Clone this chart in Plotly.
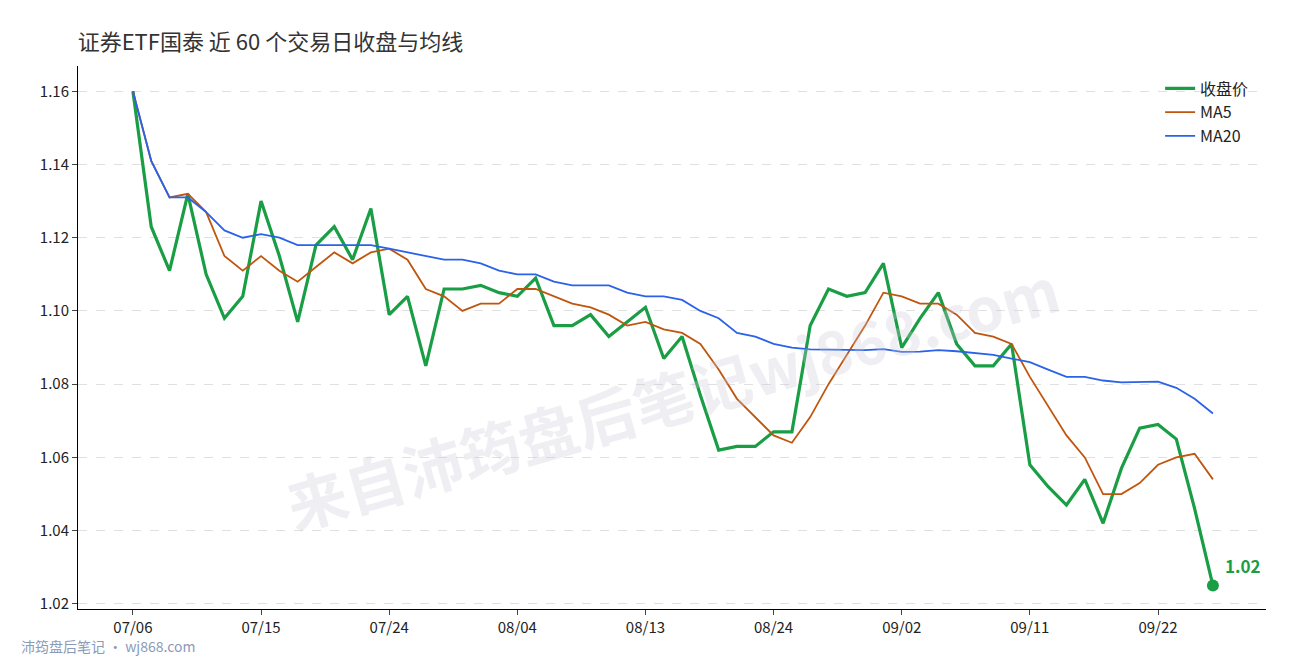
import plotly.graph_objects as go

dates = ["07/06","07/07","07/08","07/10","07/11","07/12","07/13","07/15","07/16","07/17",
         "07/18","07/19","07/20","07/22","07/24","07/25","07/26","07/27","07/29","07/31",
         "08/01","08/04","08/05","08/06","08/07","08/08","08/11","08/12","08/13","08/15",
         "08/18","08/19","08/20","08/21","08/22","08/24","08/25","08/26","08/27","08/28",
         "08/29","09/01","09/02","09/03","09/04","09/05","09/08","09/09","09/10","09/11",
         "09/12","09/15","09/16","09/17","09/18","09/19","09/22","09/23","09/24","09/25"]
close = [1.160,1.123,1.111,1.132,1.110,1.098,1.104,1.130,1.115,1.097,
         1.118,1.123,1.114,1.128,1.099,1.104,1.085,1.106,1.106,1.107,
         1.105,1.104,1.109,1.096,1.096,1.099,1.093,1.097,1.101,1.087,
         1.093,1.077,1.062,1.063,1.063,1.067,1.067,1.096,1.106,1.104,
         1.105,1.113,1.090,1.098,1.105,1.091,1.085,1.085,1.091,1.058,
         1.052,1.047,1.054,1.042,1.057,1.068,1.069,1.065,1.046,1.025]
ma5 = [1.160,1.141,1.131,1.132,1.127,1.115,1.111,1.115,1.111,1.108,
       1.112,1.116,1.113,1.116,1.117,1.114,1.106,1.104,1.100,1.102,
       1.102,1.106,1.106,1.104,1.102,1.101,1.099,1.096,1.097,1.095,
       1.094,1.091,1.084,1.076,1.071,1.066,1.064,1.071,1.080,1.088,
       1.096,1.105,1.104,1.102,1.102,1.099,1.094,1.093,1.091,1.082,
       1.074,1.066,1.060,1.050,1.050,1.053,1.058,1.060,1.061,1.054]
ma20 = [1.160,1.141,1.131,1.131,1.127,1.122,1.120,1.121,1.120,1.118,
        1.118,1.118,1.118,1.118,1.117,1.116,1.115,1.114,1.114,1.113,
        1.111,1.110,1.110,1.108,1.107,1.107,1.107,1.105,1.104,1.104,
        1.103,1.100,1.098,1.094,1.093,1.091,1.090,1.0895,1.0895,1.0893,
        1.0893,1.0896,1.0888,1.0889,1.0893,1.089,1.0885,1.088,1.087,1.086,
        1.084,1.082,1.082,1.081,1.0805,1.0806,1.0807,1.079,1.076,1.072]
tick_idx = [0,7,14,21,28,35,42,49,56]

x = list(range(len(dates)))
font = "Noto Sans CJK SC"
fig = go.Figure()
fig.add_trace(go.Scatter(x=x, y=close, mode="lines", name="收盘价",
                         line=dict(color="#1a9e45", width=3.2)))
fig.add_trace(go.Scatter(x=x, y=ma5, mode="lines", name="MA5",
                         line=dict(color="#c0560e", width=1.8)))
fig.add_trace(go.Scatter(x=x, y=ma20, mode="lines", name="MA20",
                         line=dict(color="#2a62e8", width=1.8)))
fig.add_trace(go.Scatter(x=[x[-1]], y=[close[-1]], mode="markers", showlegend=False,
                         marker=dict(color="#1a9e45", size=12)))
fig.add_annotation(x=x[-1], y=close[-1], text="<b>%.2f</b>" % close[-1], showarrow=False,
                   xshift=30, yshift=20, font=dict(color="#1a9e45", size=17, family=font))
fig.add_annotation(text="<b>来自沛筠盘后笔记wj868.com</b>", xref="paper", yref="paper", x=0.5, y=0.68,
                   showarrow=False, textangle=-16,
                   font=dict(size=60, color="rgba(200,200,215,0.3)", family=font))
fig.add_annotation(text="沛筠盘后笔记 · wj868.com", xref="paper", yref="paper", x=-0.05, y=-0.09,
                   xanchor="left", showarrow=False, font=dict(size=14, color="#8a9ab8", family=font))
fig.update_layout(
    width=1290, height=660, paper_bgcolor="white", plot_bgcolor="white",
    margin=dict(l=70, r=32, t=58, b=59),
    title=dict(text="证券ETF国泰 近 60 个交易日收盘与均线", x=0.054, y=0.96, xanchor="left",
               font=dict(size=22, color="#333", family=font)),
    font=dict(family=font, size=15, color="#222"),
    legend=dict(x=0.99, y=0.99, xanchor="right", yanchor="top", bgcolor="rgba(0,0,0,0)",
                font=dict(size=16)),
    xaxis=dict(range=[-3, 61.9], tickvals=[x[i] for i in tick_idx],
               ticktext=[dates[i] for i in tick_idx], showgrid=False,
               showline=True, linecolor="black", ticks="outside", ticklen=5, zeroline=False),
    yaxis=dict(range=[1.0186, 1.1669], tickvals=[1.02,1.04,1.06,1.08,1.10,1.12,1.14,1.16],
               tickformat=".2f", showgrid=True, gridcolor="#e0e0e0", griddash="dash",
               showline=True, linecolor="black", ticks="outside", ticklen=5, zeroline=False),
)
fig.write_html("out.html")
